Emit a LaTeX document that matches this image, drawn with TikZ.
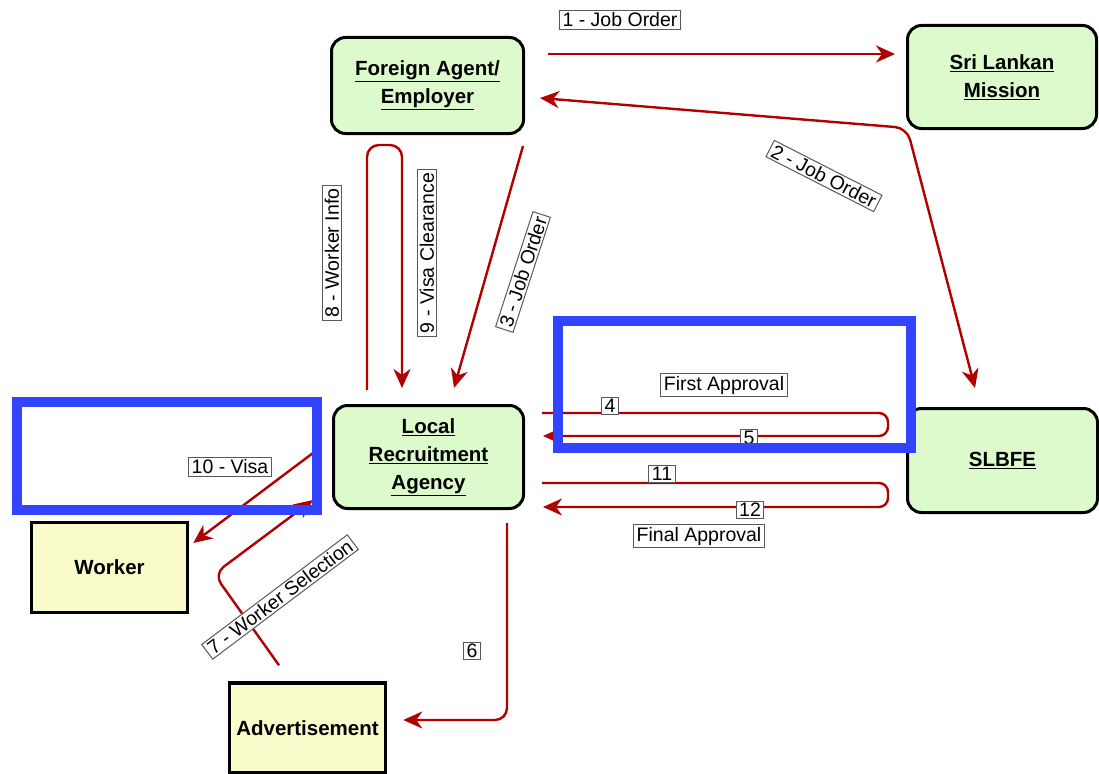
\documentclass[tikz,border=0pt]{standalone}
\usepackage{fontspec}
\setmainfont{Liberation Sans}
\usetikzlibrary{arrows.meta,positioning}
\definecolor{agentgreen}{HTML}{DCFACB}
\definecolor{workeryellow}{HTML}{FAFBCB}
\definecolor{flowred}{HTML}{B00000}
\definecolor{markblue}{HTML}{3344FF}

\begin{document}
\begin{tikzpicture}[
    x=1pt, y=-1pt,
    >={Stealth[length=19pt,width=17pt,inset=6pt]},
    office/.style={draw, line width=3pt, rounded corners=14pt, fill=agentgreen, align=center, font=\fontsize{20.5}{28}\selectfont\bfseries},
    person/.style={draw, line width=3.5pt, fill=workeryellow, align=center, font=\fontsize{20.5}{28}\selectfont\bfseries},
    tag/.style={draw=black!65, line width=1pt, fill=white, inner xsep=3pt, inner ysep=2pt, font=\fontsize{19.5}{22}\selectfont},
    flow/.style={draw=flowred, line width=2.4pt, rounded corners=12pt, ->},
    loop/.style={flow, rounded corners=9pt},
    frame/.style={draw=markblue, line width=10pt}
  ]
    \useasboundingbox (0,0) rectangle (1099,773);

    \node[office, minimum width=192pt, minimum height=96pt] (fae) at (427.5,85.5) {\underline{Foreign Agent/}\\\underline{Employer}};
    \node[office, minimum width=189pt, minimum height=103pt] (slm) at (1002,77) {\underline{Sri Lankan}\\\underline{Mission}};
    \node[office, minimum width=190pt, minimum height=103pt] (lra) at (428.5,457) {\underline{Local}\\\underline{Recruitment}\\\underline{Agency}};
    \node[office, minimum width=190pt, minimum height=104pt] (slb) at (1002.5,460.5) {\underline{SLBFE}};
    \node[person, minimum width=156pt, minimum height=90pt] (wrk) at (109.5,567.5) {Worker};
    \node[person, minimum width=156pt, minimum height=90pt] (adv) at (307.5,728) {Advertisement};

    % job order to the mission and the bureau
    \draw[flow] ([xshift=23pt,yshift=31.5pt]fae.east) -- ([xshift=-11pt,yshift=23pt]slm.west);
    \draw[flow, <->] ([xshift=15pt,yshift=-12.5pt]fae.east) -- (907,128) -- ([xshift=-27.5pt,yshift=19pt]slb.north);
    \draw[flow] ([xshift=95.5pt,yshift=-11pt]fae.south) -- ([xshift=25.5pt,yshift=16pt]lra.north);

    % worker info and visa clearance
    \draw[flow] ([xshift=-61.5pt,yshift=14pt]lra.north) -- ([xshift=-60.5pt,yshift=-10pt]fae.south)
      -- ([xshift=-25.5pt,yshift=-10pt]fae.south) -- ([xshift=-26.5pt,yshift=16pt]lra.north);

    % approvals
    \draw[loop] ([xshift=17pt,yshift=44pt]lra.east) -- ([xshift=-18pt,yshift=47.5pt]slb.west)
      -- ([xshift=-18pt,yshift=24.5pt]slb.west) -- ([xshift=18pt,yshift=21pt]lra.east);
    \draw[loop] ([xshift=17pt,yshift=-26pt]lra.east) -- ([xshift=-18pt,yshift=-22.5pt]slb.west)
      -- ([xshift=-18pt,yshift=-46.5pt]slb.west) -- ([xshift=18pt,yshift=-50pt]lra.east);

    % visa, selection, advertisement
    \draw[flow] ([xshift=-19pt,yshift=4pt]lra.west) -- ([xshift=4pt,yshift=24.5pt]wrk.east);
    \draw[flow] ([xshift=-28.5pt,yshift=16pt]adv.north) -- (214,574) -- ([xshift=-19pt,yshift=10pt]lra.south west);
    \draw[flow] ([xshift=78.5pt,yshift=-13pt]lra.south) -- (507,720) -- ([xshift=16pt,yshift=8pt]adv.east);

    \node[tag] (t1) at (620,20) {1 - Job Order};
    \node[tag, rotate=-27] (t2) at (824,176) {2 - Job Order};
    \node[tag, rotate=72] (t3) at (523,272) {3 - Job Order};
    \node[tag] (t4) at (610,406) {4};
    \node[tag] (t5) at (749,438) {5};
    \node[tag] (tfirst) at (724,385) {First Approval};
    \node[tag] (t6) at (472,651) {6};
    \node[tag, rotate=37] (t7) at (280,597) {7 - Worker Selection};
    \node[tag, rotate=90] (t8) at (332,253) {8 - Worker Info};
    \node[tag, rotate=90] (t9) at (427,253) {9 - Visa Clearance};
    \node[tag] (t10) at (230,467) {10 - Visa};
    \node[tag] (t11) at (662,474) {11};
    \node[tag] (t12) at (750,510) {12};
    \node[tag] (tfinal) at (699,536) {Final Approval};

    % highlight frames
    \draw[frame] (558,321) rectangle (911,448);
    \draw[frame] (17,402) rectangle (317,510);
  \end{tikzpicture}
\end{document}
